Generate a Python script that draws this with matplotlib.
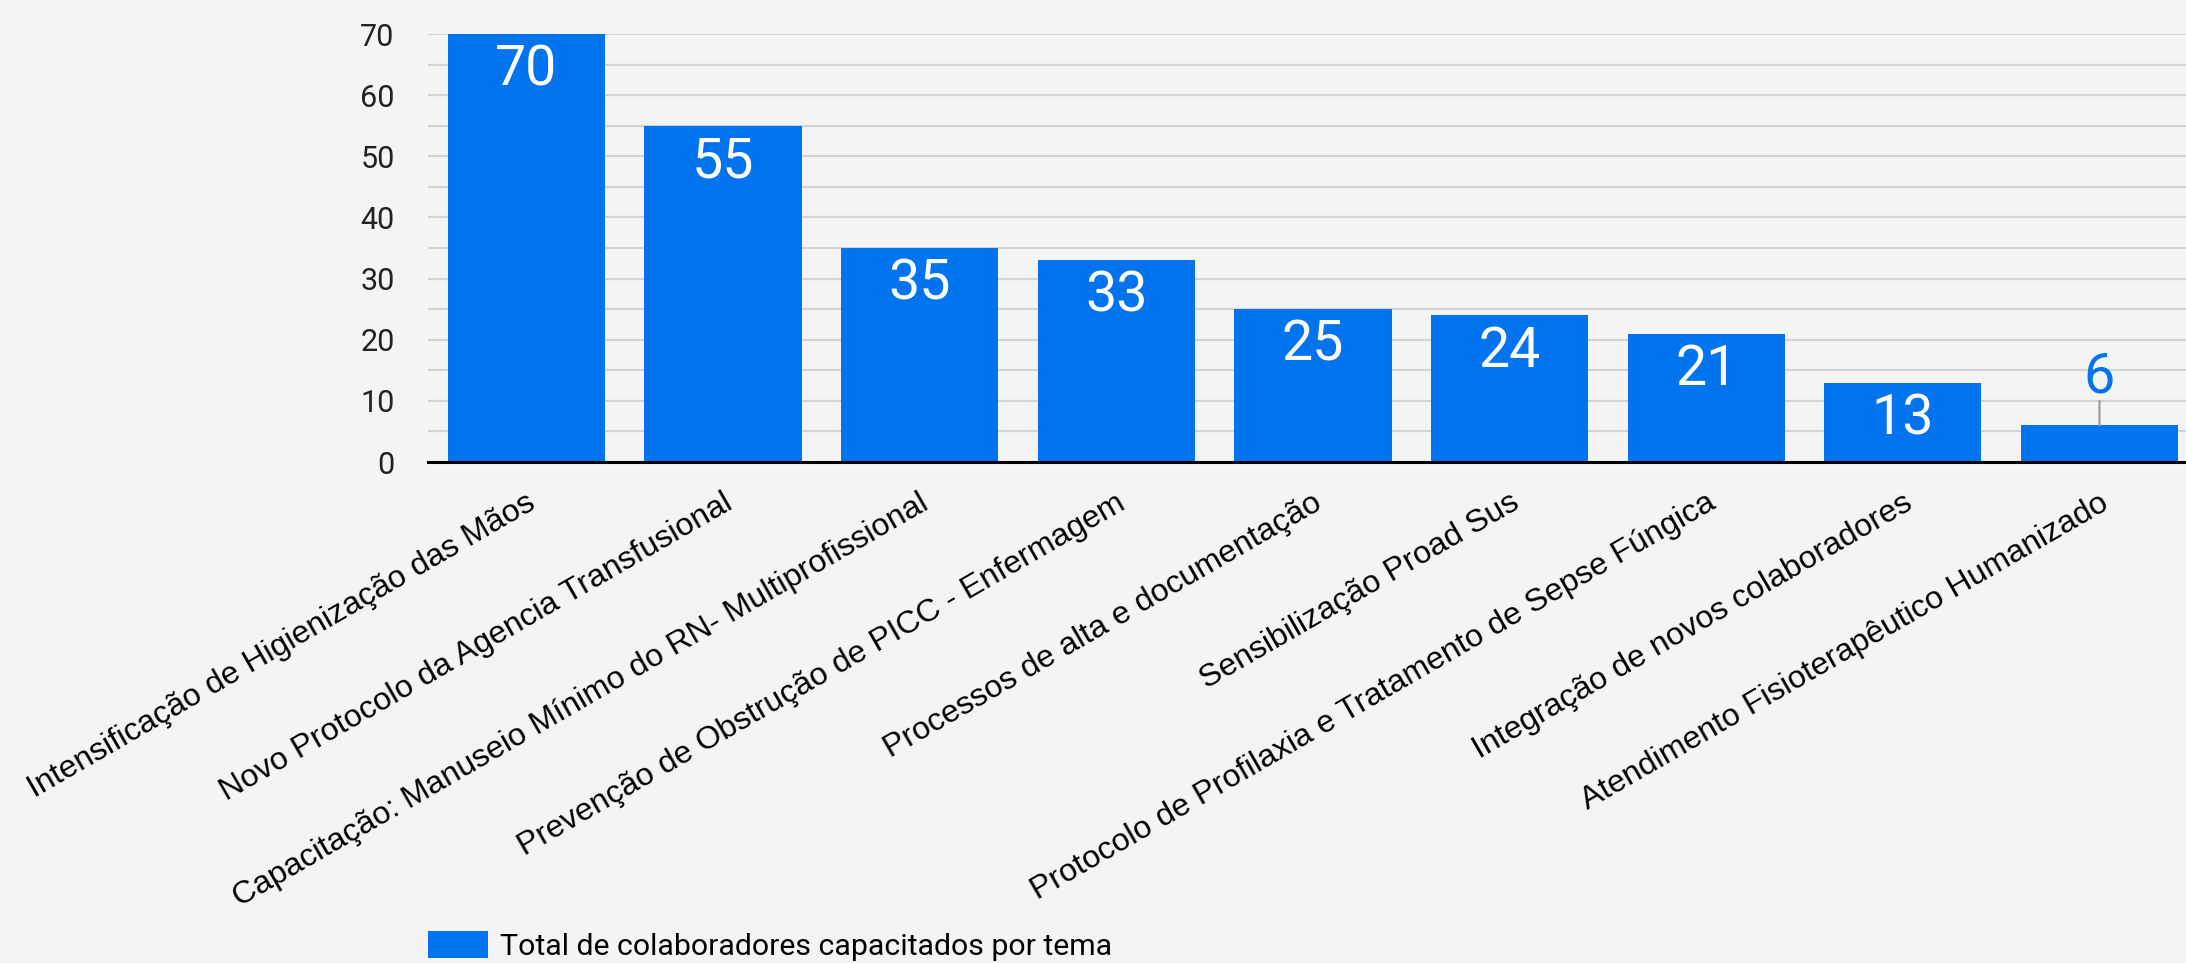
import matplotlib
matplotlib.use("Agg")
import matplotlib.pyplot as plt
from matplotlib.transforms import ScaledTranslation

plt.rcParams['font.family'] = ['Roboto', 'DejaVu Sans']

categories = [
    "Intensificação de Higienização das Mãos",
    "Novo Protocolo da Agencia Transfusional",
    "Capacitação: Manuseio Mínimo do RN- Multiprofissional",
    "Prevenção de Obstrução de PICC - Enfermagem",
    "Processos de alta e documentação",
    "Sensibilização Proad Sus",
    "Protocolo de Profilaxia e Tratamento de Sepse Fúngica",
    "Integração de novos colaboradores",
    "Atendimento Fisioterapêutico Humanizado",
]
values = [70, 55, 35, 33, 25, 24, 21, 13, 6]
series_name = "Total de colaboradores capacitados por tema"
y_ticks = [0, 10, 20, 30, 40, 50, 60, 70]
y_minor = [5, 15, 25, 35, 45, 55, 65]

BG = '#f4f4f4'
BLUE = '#0073EF'
W, H = 2186, 963
DPI = 100

fig = plt.figure(figsize=(W / DPI, H / DPI), dpi=DPI)
fig.patch.set_facecolor(BG)
ax = fig.add_axes([428 / W, 1 - 462 / H, 1 - 428 / W, (462 - 34) / H])
ax.set_facecolor(BG)

x = list(range(len(values)))
bars = ax.bar(x, values, width=0.8, color=BLUE, label=series_name, zorder=2)
ax.set_xlim(-0.5, 8.44)
ax.set_ylim(0, 70)
ax.set_yticks(y_ticks)
ax.set_yticks(y_minor, minor=True)
ax.yaxis.grid(True, which='both', color='#d3d3d3', linewidth=1.5, zorder=0)
ax.set_axisbelow(True)
for s in ['top', 'right', 'left']:
    ax.spines[s].set_visible(False)
ax.spines['bottom'].set_color('black')
ax.spines['bottom'].set_linewidth(2.2)
ax.spines['bottom'].set_zorder(3)

ax.tick_params(axis='y', which='both', length=0, pad=24, labelsize=22, labelcolor='#222222')
ax.tick_params(axis='x', length=0, pad=33)
ax.set_xticks(x)
ax.set_xticklabels(categories, rotation=30, ha='right', va='baseline',
                   rotation_mode='anchor', fontsize=23, color='#000000',
                   family=['Liberation Sans', 'DejaVu Sans'])
for lbl in ax.get_xticklabels():
    lbl.set_transform(lbl.get_transform() + ScaledTranslation(11 / DPI, 0, fig.dpi_scale_trans))

for i, v in enumerate(values):
    if v >= 10:
        ax.annotate(str(v), (i, v), xytext=(0, -7), textcoords='offset points',
                    ha='center', va='top', color='white', fontsize=40, zorder=4)
    else:
        ax.annotate('', xy=(i, v), xytext=(0, 17.5), textcoords='offset points',
                    arrowprops=dict(arrowstyle='-', color='#999999', lw=1.5,
                                    shrinkA=0, shrinkB=0), zorder=4)
        ax.annotate(str(v), (i, v), xytext=(0, 35), textcoords='offset points',
                    ha='center', va='center', color=BLUE, fontsize=40, zorder=4)

ax.legend(loc='center left', bbox_to_anchor=(428 / W, 1 - 946 / H),
          bbox_transform=fig.transFigure, frameon=False, fontsize=21.8,
          handlelength=60 / 30.3, handleheight=30 / 30.3, handletextpad=0.4,
          borderpad=0, borderaxespad=0)

fig.savefig('out.png', dpi=DPI, facecolor=BG)
